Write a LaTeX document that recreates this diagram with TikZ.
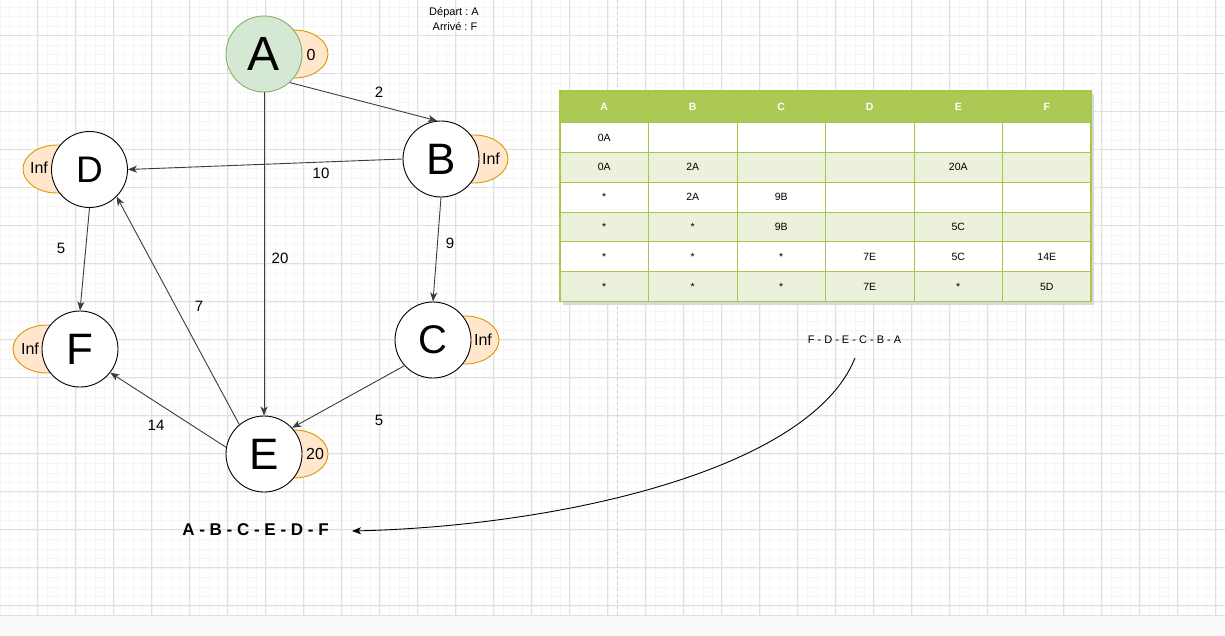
\documentclass[tikz,border=0pt]{standalone}
\usepackage{fontspec}
\setmainfont{Liberation Sans}
\usetikzlibrary{arrows.meta, shapes.geometric}
\definecolor{cgreen}{HTML}{D5E8D4}
\definecolor{cgreenline}{HTML}{82B366}
\definecolor{corange}{HTML}{FFE6CC}
\definecolor{corangeline}{HTML}{D79B00}
\definecolor{ctabhead}{HTML}{ADC955}
\definecolor{ctabrow}{HTML}{EBF1DA}
\definecolor{ctabline}{HTML}{A6C74A}
\definecolor{cedge}{HTML}{3C3C3C}
\definecolor{cgridmin}{HTML}{F5F5F5}
\definecolor{cgridmaj}{HTML}{E0E0E0}
\definecolor{cfoot}{HTML}{FAFAFA}
\frenchspacing
\tikzset{
  vertex/.style={circle, draw=black, fill=white, line width=0.9pt, minimum size=76pt, inner sep=0pt},
  dist/.style={ellipse, draw=corangeline, fill=corange, line width=0.9pt, minimum width=68pt, minimum height=48pt, inner sep=0pt},
  distlabel/.style={font=\fontsize{16}{16}\selectfont, inner sep=0pt},
  edge/.style={-{Stealth[length=9pt, width=7pt, inset=2.5pt]}, draw=cedge, line width=0.9pt},
  weight/.style={font=\fontsize{15}{15}\selectfont, inner sep=1pt},
  cell/.style={font=\fontsize{10.5}{10.5}\selectfont, inner sep=0pt},
  head/.style={font=\bfseries\fontsize{10.5}{10.5}\selectfont, text=white, inner sep=0pt},
  info/.style={font=\fontsize{11}{11}\selectfont, inner sep=0pt},
}
\newcommand{\bigletter}[1]{\fontsize{#1}{#1}\selectfont}

\begin{document}
\begin{tikzpicture}[x=1pt, y=-1pt]
  \useasboundingbox (0,0) rectangle (1225,636);
  % grid paper
  \fill[white] (0,0) rectangle (1225,615);
  \foreach \gx in {-0.2,9.3,...,1225} \draw[cgridmin, line width=0.6pt] (\gx,0) -- (\gx,615);
  \foreach \gy in {-2.2,7.3,...,615} \draw[cgridmin, line width=0.6pt] (0,\gy) -- (1225,\gy);
  \foreach \gx in {37.3,75.3,...,1225} \draw[cgridmaj, line width=0.9pt] (\gx,0) -- (\gx,615);
  \foreach \gy in {35.3,73.3,...,615} \draw[cgridmaj, line width=0.9pt] (0,\gy) -- (1225,\gy);
  \draw[gray!40, dash pattern=on 3pt off 3pt, line width=0.7pt] (617.3,0) -- (617.3,615);
  \fill[cfoot] (0,615) rectangle (1225,636);
  \draw[cgridmaj, line width=1pt] (0,615) -- (1225,615);

  % distances behind the vertices
  \node[dist] (dA) at (294,54) {};
  \node[dist] (dB) at (474,159) {};
  \node[dist] (dC) at (465,340) {};
  \node[dist] (dD) at (57,169) {};
  \node[dist] (dE) at (294,454) {};
  \node[dist] (dF) at (47,349) {};
  \node[distlabel] (tA) at (311,55) {0};
  \node[distlabel] (tB) at (491,159) {Inf};
  \node[distlabel] (tC) at (483,340) {Inf};
  \node[distlabel] (tD) at (39,168) {Inf};
  \node[distlabel] (tE) at (315,454) {20};
  \node[distlabel] (tF) at (30,349) {Inf};

  % vertices
  \node[vertex, fill=cgreen, draw=cgreenline, font=\bigletter{48}] (A) at (264,54) {A};
  \node[vertex, font=\bigletter{44}] (B) at (441,159) {B};
  \node[vertex, font=\bigletter{40}] (C) at (433,340) {C};
  \node[vertex, font=\bigletter{37}] (D) at (89.5,169.5) {D};
  \node[vertex, font=\bigletter{44}] (E) at (264,454) {E};
  \node[vertex, font=\bigletter{44}] (F) at (80,349) {F};

  % edges
  \draw[edge] (A.-48) -- (B.96);
  \draw[edge] (A.south) -- (E.north);
  \draw[edge] (B.west) -- (D.east);
  \draw[edge] (B.south) -- (C.north);
  \draw[edge] (D.south) -- (F.north);
  \draw[edge] (E.130) -- (D.-45);
  \draw[edge] (E.170) -- (F.-38);
  \draw[edge] (C.222) -- (E.43);

  % weights
  \node[weight] (wAB) at (379,92) {2};
  \node[weight] (wAE) at (280,258) {20};
  \node[weight] (wBD) at (321,173) {10};
  \node[weight] (wBC) at (450,243) {9};
  \node[weight] (wDF) at (61,248) {5};
  \node[weight] (wED) at (199,306) {7};
  \node[weight] (wEF) at (156,425) {14};
  \node[weight] (wCE) at (379,420) {5};

  \node[info] (dep) at (454,12.5) {Départ : A};
  \node[info] (arr) at (455,26.7) {Arrivé : F};

  % table
  \fill[gray!30] (563,94) rectangle (1094,304.6);
  \fill[white] (560,91) rectangle (1091,301.6);
  \fill[ctabhead] (560,91) rectangle (1091,122.5);
  \foreach \r in {2,4,6}
    \fill[ctabrow] (560,{122.5+29.85*(\r-1)}) rectangle (1091,{122.5+29.85*\r});
  \foreach \r in {0,...,6}
    \draw[ctabline, line width=0.9pt] (560,{122.5+29.85*\r}) -- (1091,{122.5+29.85*\r});
  \foreach \c in {1,...,5}
    \draw[ctabline, line width=0.9pt] ({560+88.5*\c},91) -- ({560+88.5*\c},301.6);
  \draw[ctabline, line width=1.3pt] (560,91) rectangle (1091,301.6);
  \foreach \h [count=\c] in {A,B,C,D,E,F}
    \node[head] (h\h) at ({560+88.5*(\c-0.5)},106.7) {\h};
  \foreach \c/\r/\t in {1/1/0A, 1/2/0A, 2/2/2A, 5/2/20A, 1/3/*, 2/3/2A, 3/3/9B,
      1/4/*, 2/4/*, 3/4/9B, 5/4/5C, 1/5/*, 2/5/*, 3/5/*, 4/5/7E, 5/5/5C, 6/5/14E,
      1/6/*, 2/6/*, 3/6/*, 4/6/7E, 5/6/*, 6/6/5D}
    \node[cell] (c\c-\r) at ({560+88.5*(\c-0.5)},{122.5+29.85*(\r-0.5)}) {\t};

  % reading the path back
  \node[info] (rev) at (854.5,340) {F - D - E - C - B - A};
  \node[font=\bfseries\fontsize{17}{17}\selectfont, inner sep=0pt] (path) at (255.5,530) {A - B - C - E - D - F};
  \coordinate (cs) at (855,358);
  \coordinate (ce) at (352,531);
  \draw[edge, draw=black] (cs) .. controls (810,470) and (560,526) .. (ce);
\end{tikzpicture}
\end{document}
